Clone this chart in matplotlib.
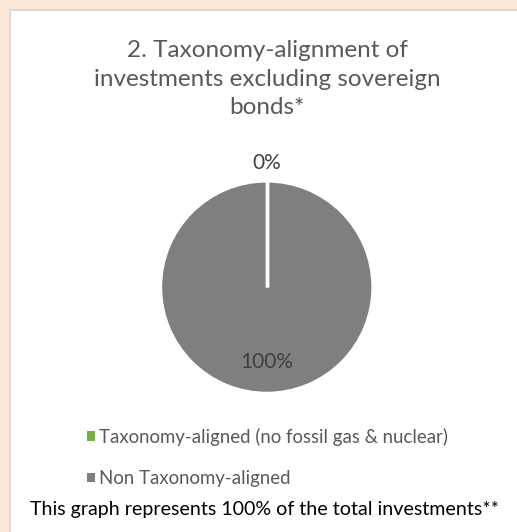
import matplotlib
matplotlib.use("Agg")
import matplotlib.pyplot as plt
import numpy as np
from matplotlib.patches import Rectangle, Patch

plt.rcParams['font.family'] = ['Lato', 'DejaVu Sans']

# ---------------------------------------------------------
# data
# ---------------------------------------------------------
title = "2. Taxonomy-alignment of\ninvestments excluding sovereign\nbonds*"
categories = ["Taxonomy-aligned (no fossil gas & nuclear)", "Non Taxonomy-aligned"]
values = [0, 100]
colors = ["#76B041", "#7F7F7F"]
footnote = "This graph represents 100% of the total investments**"

# ---------------------------------------------------------
# figure + background panel
# ---------------------------------------------------------
fig = plt.figure(figsize=(5.17, 5.32), dpi=100)
fig.patch.set_facecolor("#FCE8D8")
W, H = 517, 532
panel = Rectangle((10 / W, -0.01), 1.01 - 10 / W, 1.01 - 10 / H, transform=fig.transFigure,
                  facecolor="white", edgecolor="#D9D9D9", linewidth=1.5, zorder=-5)
fig.patches.append(panel)

fig.text(267 / W, 1 - 79 / H, title, ha="center", va="center", fontsize=17.5,
         color="#595959", linespacing=1.42)

# ---------------------------------------------------------
# pie
# ---------------------------------------------------------
ax = fig.add_axes([0.311, 0.261, 0.410, 0.3985])
ax.set_zorder(2)
wedges, _ = ax.pie(values, colors=colors, startangle=90, counterclock=False,
                   wedgeprops=dict(edgecolor="white", linewidth=2))

# slice borders (a 0% slice still shows as a white line)
total = sum(values)
angles = 90 - 360 * np.cumsum([0] + values[:-1]) / total
for a in angles:
    ax.plot([0, np.cos(np.radians(a))], [0, np.sin(np.radians(a))],
            color="white", linewidth=2.5, solid_capstyle="butt")

ax.set_xlim(-1, 1)
ax.set_ylim(-1, 1)
ax.set_aspect("equal")
ax.axis("off")

# 0% label sits outside at the top, 100% inside at the bottom
ax.text(0, 1.17, f"{values[0] / total:.0%}", ha="center", va="center",
        fontsize=15, color="#404040", clip_on=False)
ax.text(0, -0.71, f"{values[1] / total:.0%}", ha="center", va="center",
        fontsize=15, color="#404040")

# ---------------------------------------------------------
# legend + footnote
# ---------------------------------------------------------
handles = [Patch(facecolor=c, edgecolor="none") for c in colors]
fig.legend(handles, categories, loc="upper left", bbox_to_anchor=(70 / W, 1 - 411 / H),
           frameon=False, fontsize=13.4, labelcolor="#595959", handlelength=0.42,
           handleheight=0.42, handletextpad=0.25, labelspacing=1.3)

fig.text(264 / W, 1 - 510 / H, footnote, ha="center", va="center", fontsize=14.1,
         color="black")

fig.savefig("out.png", dpi=100, facecolor=fig.get_facecolor())
